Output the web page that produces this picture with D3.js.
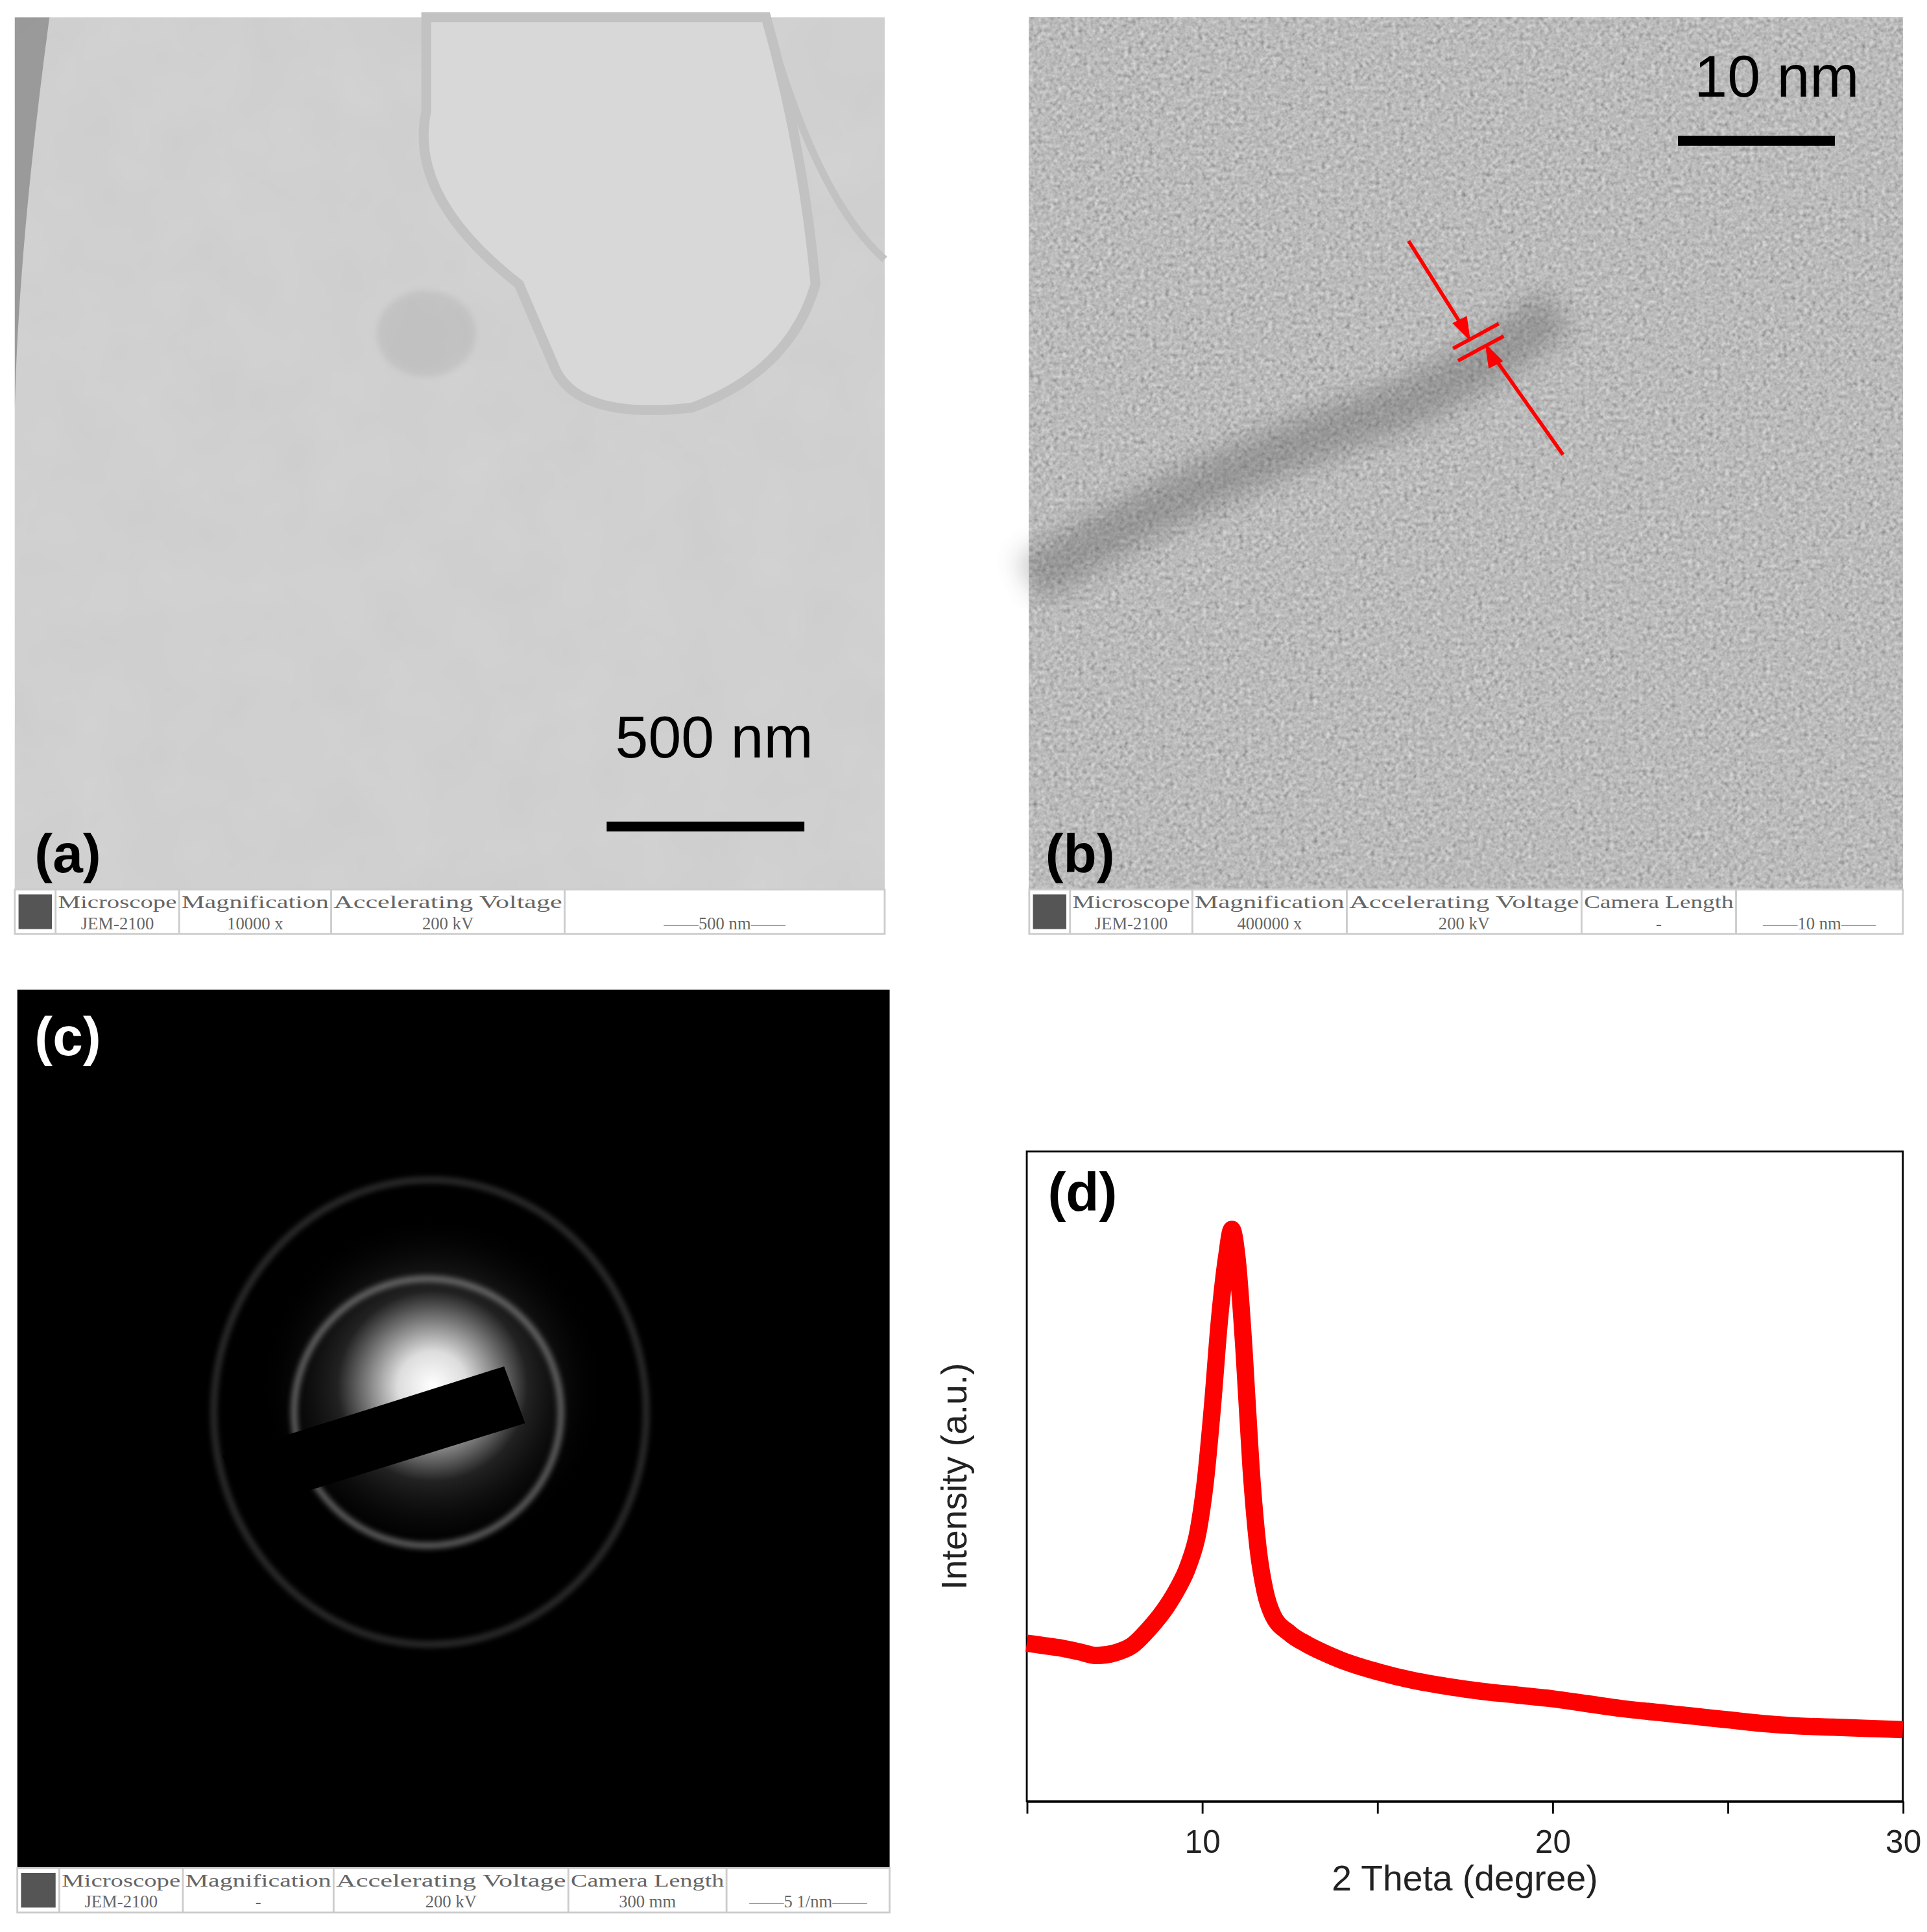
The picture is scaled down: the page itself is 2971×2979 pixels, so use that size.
<!DOCTYPE html>
<html>
<head>
<meta charset="utf-8">
<script src="https://cdn.jsdelivr.net/npm/d3@7"></script>
<style>
  body { margin: 0; background: #fff; }
  text { font-family: Arial, "Liberation Sans", sans-serif; }
  .info text { font-family: "Liberation Serif", "DejaVu Serif", serif; fill: #666; }
</style>
</head>
<body>
<div id="fig"></div>
<script>
// XRD pattern, panel (d): 2 theta vs intensity (a.u.)
const theta = [5, 5.5, 6, 6.5, 7, 7.5, 8, 8.5, 9, 9.3, 9.6, 9.9, 10.1, 10.3, 10.5, 10.7, 10.85, 11.0, 11.2, 11.4, 11.6, 11.8, 12.0, 12.5, 13, 13.5, 14, 15, 16, 17, 18, 19, 20, 21, 22, 23, 24, 25, 26, 27, 28, 29, 30];
const intensity = [128, 126, 124, 121, 118, 120, 126, 140, 158, 172, 190, 220, 260, 320, 390, 440, 463, 440, 365, 270, 205, 170, 152, 136, 127, 120, 114, 105, 98, 93, 89, 86, 83, 79, 75, 72, 69, 66, 63, 61, 60, 59, 58];
const xTicks = [10, 20, 30];
const xMinor = [15, 25];

// info-bar contents of the three micrographs
const infoA = { cols: [45, 145, 268, 457, 716], head: ["Microscope", "Magnification", "Accelerating Voltage", ""], vals: ["JEM-2100", "10000 x", "200 kV", "——500 nm——"] };
const infoB = { cols: [866, 965, 1090, 1280, 1405, 1540], head: ["Microscope", "Magnification", "Accelerating Voltage", "Camera Length", ""], vals: ["JEM-2100", "400000 x", "200 kV", "-", "——10 nm——"] };
const infoC = { cols: [48, 148, 270, 460, 588, 720], head: ["Microscope", "Magnification", "Accelerating Voltage", "Camera Length", ""], vals: ["JEM-2100", "-", "200 kV", "300 mm", "——5 1/nm——"] };

const W = 2971, H = 2979, k = 1.905; // layout drawn in preview units then scaled
const svg = d3.select("#fig").append("svg").attr("width", W).attr("height", H);
const root = svg.append("g").attr("transform", `scale(${k})`);
const defs = svg.append("defs");

// textures
const tA = defs.append("filter").attr("id", "texA").attr("x", 0).attr("y", 0).attr("width", 1).attr("height", 1);
tA.append("feTurbulence").attr("type", "fractalNoise").attr("baseFrequency", 0.02).attr("numOctaves", 3).attr("seed", 4);
tA.append("feColorMatrix").attr("values", "0 0 0 0 0.7  0 0 0 0 0.7  0 0 0 0 0.7  0 0 0 0.45 0");
const tB = defs.append("filter").attr("id", "texB").attr("x", 0).attr("y", 0).attr("width", 1).attr("height", 1);
tB.append("feTurbulence").attr("type", "fractalNoise").attr("baseFrequency", 0.3).attr("numOctaves", 2).attr("seed", 7);
tB.append("feColorMatrix").attr("values", "0.33 0.33 0.33 0 0.03  0.33 0.33 0.33 0 0.03  0.33 0.33 0.33 0 0.03  0 0 0 0 1");
const glow = defs.append("radialGradient").attr("id", "glow");
glow.append("stop").attr("offset", "0").attr("stop-color", "#fff");
glow.append("stop").attr("offset", "0.2").attr("stop-color", "#ddd");
glow.append("stop").attr("offset", "0.55").attr("stop-color", "#222");
glow.append("stop").attr("offset", "1").attr("stop-color", "#000").attr("stop-opacity", 0);
const ringBlur = defs.append("filter").attr("id", "blur");
ringBlur.append("feGaussianBlur").attr("stdDeviation", 2.5);
const bigBlur = defs.append("filter").attr("id", "bigblur");
bigBlur.append("feGaussianBlur").attr("stdDeviation", 10);

// ---- panel (a)
root.append("rect").attr("x", 12).attr("y", 14).attr("width", 704).attr("height", 706).attr("fill", "#cdcdcd");
root.append("rect").attr("x", 12).attr("y", 14).attr("width", 704).attr("height", 706).attr("filter", "url(#texA)");
root.append("path")
  .attr("d", "M345,14 L620,14 Q650,120 660,230 Q640,300 560,330 Q470,340 450,300 L420,230 Q330,160 345,90 Z")
  .attr("fill", "#d8d8d8").attr("stroke", "#c2c2c2").attr("stroke-width", 8);
root.append("path").attr("d", "M620,14 Q660,160 716,210").attr("fill", "none").attr("stroke", "#c2c2c2").attr("stroke-width", 6);
root.append("path").attr("d", "M12,14 L40,14 Q15,200 12,330 Z").attr("fill", "#777").attr("opacity", 0.6);
root.append("ellipse").attr("cx", 345).attr("cy", 270).attr("rx", 40).attr("ry", 35).attr("fill", "#aaa").attr("opacity", 0.35).attr("filter", "url(#blur)");
root.append("text").attr("x", 578).attr("y", 613).attr("text-anchor", "middle").attr("font-size", 48).text("500 nm");
root.append("rect").attr("x", 491).attr("y", 665).attr("width", 160).attr("height", 8).attr("fill", "#000");
root.append("text").attr("x", 28).attr("y", 706).attr("font-size", 44).attr("font-weight", "bold").text("(a)");

// ---- panel (b)
root.append("rect").attr("x", 833).attr("y", 14).attr("width", 707).attr("height", 706).attr("fill", "#8c8c8c");
root.append("rect").attr("x", 833).attr("y", 14).attr("width", 707).attr("height", 706).attr("filter", "url(#texB)").attr("opacity", 0.9);
root.append("path").attr("d", "M833,470 Q980,380 1130,330 Q1200,300 1260,250")
  .attr("fill", "none").attr("stroke", "#444").attr("stroke-width", 40).attr("opacity", 0.3).attr("filter", "url(#bigblur)");
root.append("text").attr("x", 1438).attr("y", 78).attr("text-anchor", "middle").attr("font-size", 48).text("10 nm");
root.append("rect").attr("x", 1358).attr("y", 110).attr("width", 127).attr("height", 8).attr("fill", "#000");
root.append("text").attr("x", 846).attr("y", 706).attr("font-size", 44).attr("font-weight", "bold").text("(b)");
const red = root.append("g").attr("stroke", "#f00").attr("stroke-width", 3).attr("fill", "#f00");
red.append("line").attr("x1", 1140).attr("y1", 195).attr("x2", 1186).attr("y2", 268);
red.append("line").attr("x1", 1207).attr("y1", 286).attr("x2", 1265).attr("y2", 368);
red.append("line").attr("x1", 1176).attr("y1", 282).attr("x2", 1213).attr("y2", 262);
red.append("line").attr("x1", 1180).attr("y1", 292).attr("x2", 1217).attr("y2", 272);
red.append("path").attr("d", "M1188,272 L1178,262 L1186,258 Z");
red.append("path").attr("d", "M1204,282 L1214,292 L1206,296 Z");

// ---- panel (c)
root.append("rect").attr("x", 14).attr("y", 801).attr("width", 706).attr("height", 711).attr("fill", "#000");
root.append("circle").attr("cx", 350).attr("cy", 1122).attr("r", 140).attr("fill", "url(#glow)");
root.append("ellipse").attr("cx", 346).attr("cy", 1143).attr("rx", 108).attr("ry", 108)
  .attr("fill", "none").attr("stroke", "#999").attr("stroke-width", 4).attr("filter", "url(#blur)").attr("opacity", 0.8);
root.append("ellipse").attr("cx", 348).attr("cy", 1143).attr("rx", 175).attr("ry", 188)
  .attr("fill", "none").attr("stroke", "#555").attr("stroke-width", 4).attr("filter", "url(#blur)").attr("opacity", 0.7);
root.append("path").attr("d", "M408,1106 L425,1152 L200,1222 L180,1178 Z").attr("fill", "#000");
root.append("text").attr("x", 28).attr("y", 854).attr("font-size", 44).attr("font-weight", "bold").attr("fill", "#fff").text("(c)");

// ---- info bars
function infoBar(left, top, info) {
  const g = root.append("g").attr("class", "info");
  const h = 36, right = info.cols[info.cols.length - 1];
  g.append("rect").attr("x", left).attr("y", top).attr("width", right - left).attr("height", h)
    .attr("fill", "#fff").attr("stroke", "#ccc").attr("stroke-width", 1.5);
  g.append("rect").attr("x", left + 3).attr("y", top + 4).attr("width", info.cols[0] - left - 6).attr("height", h - 8).attr("fill", "#555");
  info.cols.slice(0, -1).forEach((x0, i) => {
    const x1 = info.cols[i + 1];
    g.append("line").attr("x1", x0).attr("x2", x0).attr("y1", top).attr("y2", top + h).attr("stroke", "#ccc").attr("stroke-width", 1.5);
    if (info.head[i]) g.append("text").attr("x", x0 + 2).attr("y", top + 15).attr("font-size", 14)
      .attr("textLength", x1 - x0 - 4).attr("lengthAdjust", "spacingAndGlyphs").text(info.head[i]);
    g.append("text").attr("x", (x0 + x1) / 2).attr("y", top + 32).attr("font-size", 14).attr("text-anchor", "middle").text(info.vals[i]);
  });
}
infoBar(12, 720, infoA);
infoBar(833, 720, infoB);
infoBar(14, 1512, infoC);

// ---- panel (d): XRD
const d = { l: 831, r: 1540, t: 932, b: 1458 };
const x = d3.scaleLinear().domain([5, 30]).range([d.l, d.r]);
const y = d3.scaleLinear().domain([0, 526]).range([d.b, d.t]);
const gd = root.append("g");
gd.append("rect").attr("x", d.l).attr("y", d.t).attr("width", d.r - d.l).attr("height", d.b - d.t)
  .attr("fill", "none").attr("stroke", "#000").attr("stroke-width", 1.5);
const ax = gd.append("g").attr("transform", `translate(0,${d.b})`)
  .call(d3.axisBottom(x).tickValues(xTicks).tickSize(10).tickSizeOuter(0).tickFormat(d3.format("d")));
ax.select(".domain").attr("stroke-width", 1.5);
ax.selectAll(".tick line").attr("stroke-width", 1.5);
ax.selectAll(".tick text").attr("font-size", 26).attr("dy", "1.1em").attr("fill", "#222");
gd.append("g").attr("transform", `translate(0,${d.b})`)
  .call(d3.axisBottom(x).tickValues([5, ...xMinor]).tickSize(10).tickFormat(""))
  .call(g => g.select(".domain").remove()).selectAll("line").attr("stroke-width", 1.5);
gd.append("text").attr("x", (d.l + d.r) / 2).attr("y", 1530).attr("text-anchor", "middle").attr("font-size", 29).attr("fill", "#222").text("2 Theta (degree)");
gd.append("text").attr("transform", `translate(782,${(d.t + d.b) / 2}) rotate(-90)`).attr("text-anchor", "middle")
  .attr("font-size", 29).attr("fill", "#222").text("Intensity (a.u.)");
gd.append("text").attr("x", 848).attr("y", 980).attr("font-size", 44).attr("font-weight", "bold").text("(d)");
gd.append("path").datum(d3.zip(theta, intensity))
  .attr("d", d3.line().x(p => x(p[0])).y(p => y(p[1])).curve(d3.curveMonotoneX))
  .attr("fill", "none").attr("stroke", "#f00").attr("stroke-width", 14).attr("stroke-linejoin", "round");
</script>
</body>
</html>
